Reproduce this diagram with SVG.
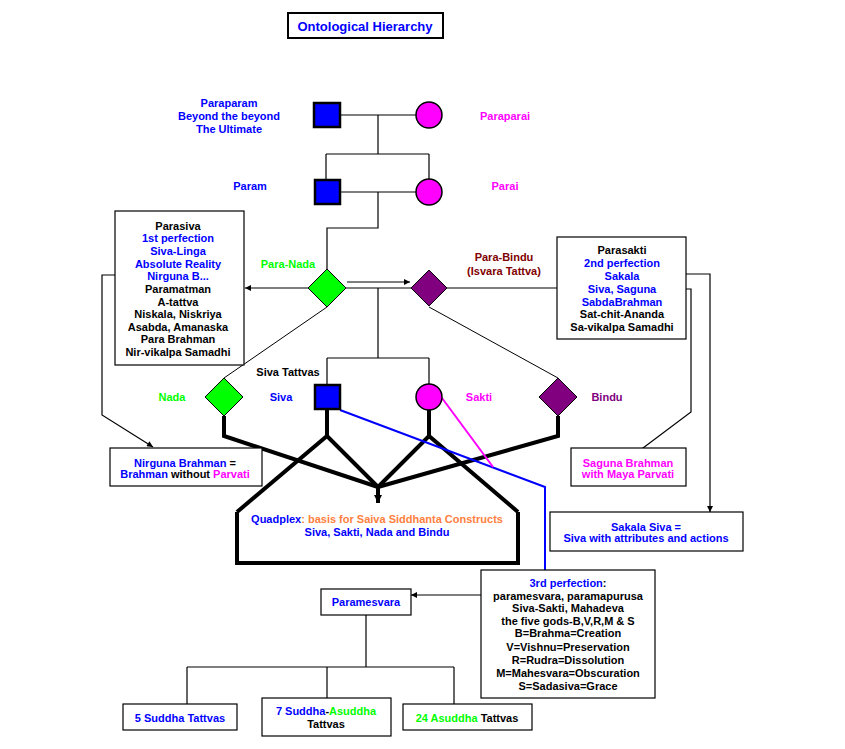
<svg xmlns="http://www.w3.org/2000/svg" width="845" height="749" viewBox="0 0 845 749">
<style>
text{font-family:"Liberation Sans",Arial,sans-serif;font-size:11px;font-weight:bold;text-anchor:middle}
.b{fill:#0000FF}.m{fill:#FF00FF}.g{fill:#00FF00}.k{fill:#000}.p{fill:#800080}.r{fill:#800000}.o{fill:#FF8040}
.box{fill:#fff;stroke:#000;stroke-width:1.2}
.ln{fill:none;stroke:#000;stroke-width:1.2}
.thin{fill:none;stroke:#000;stroke-width:1}
.thick{fill:none;stroke:#000;stroke-width:4;stroke-linejoin:miter}
.sq{fill:#0000FF;stroke:#000;stroke-width:2.5}
.ci{fill:#FF00FF;stroke:#000;stroke-width:1.5}
</style>
<defs>
<marker id="ah" viewBox="0 0 10 10" refX="10" refY="5" markerWidth="8" markerHeight="6" markerUnits="userSpaceOnUse" orient="auto"><path d="M0,0 L10,5 L0,10 z" fill="#000"/></marker>
<marker id="ahb" viewBox="0 0 10 10" refX="10" refY="5" markerWidth="10" markerHeight="8" markerUnits="userSpaceOnUse" orient="auto"><path d="M0,0 L10,5 L0,10 z" fill="#000"/></marker>
</defs>
<rect width="845" height="749" fill="#fff"/>

<g id="connectors">
  <!-- top tree -->
  <path class="ln" d="M341,115 H416 M378,115 V154 M326,154 H429 M326,154 V179 M429,154 V179"/>
  <path class="ln" d="M340,192 H416 M378,192 V228 H327 V269"/>
  <!-- diamonds -->
  <path class="ln" d="M346,288 H411"/>
  <path class="ln" d="M347,282 H410" marker-end="url(#ah)"/>
  <path class="ln" d="M308,288 H245" marker-end="url(#ah)"/>
  <path class="ln" d="M447,288 H568" marker-end="url(#ah)"/>
  <path class="ln" d="M378,288 V358 M327,358 H429 M327,358 V385 M429,358 V384"/>
  <path class="thin" d="M327,307 L224,378"/>
  <path class="thin" d="M429,307 L558,378"/>
  <!-- side connectors -->
  <path class="ln" d="M140,275 H102 V415 L153,447" marker-end="url(#ah)"/>
  <path class="ln" d="M640,274 H710 V512" marker-end="url(#ah)"/>
  <path class="ln" d="M660,289 H691 V412 L635,454" marker-end="url(#ah)"/>
  <!-- quadplex legs -->
  <path class="thick" d="M224,416 V436 L378,487"/>
  <path class="thick" d="M558,416 V436 L378,487"/>
  <path class="thick" d="M327,410 V436 M237,512 L327,436 L378,487"/>
  <path class="thick" d="M429,410 V436 M518,512 L429,436 L378,487"/>
  <path class="thick" d="M378,487 V503" marker-end="url(#ahb)"/>
  <path class="thick" d="M237,512 V563 H518 V512"/>
  <!-- colored lines -->
  <path d="M340,410 L545,487 V571" fill="none" stroke="#0000FF" stroke-width="2"/>
  <path d="M442,398 L493,467" fill="none" stroke="#FF00FF" stroke-width="2"/>
  <!-- bottom tree -->
  <path class="ln" d="M481,595 H411" marker-end="url(#ah)"/>
  <path class="ln" d="M366,615 V667 M187,667 H454 M187,667 V704 M327,667 V698 M454,667 V704"/>
</g>

<g id="title">
  <rect x="288" y="13" width="155" height="25" fill="#fff" stroke="#000" stroke-width="2"/>
  <text x="365" y="31" class="b" style="font-size:13px">Ontological Hierarchy</text>
</g>

<g id="paraparam">
  <rect class="sq" x="314" y="103" width="26" height="24"/>
  <text class="b" x="229" y="107">Paraparam</text>
  <text class="b" x="229" y="120">Beyond the beyond</text>
  <text class="b" x="229" y="133">The Ultimate</text>
</g>
<g id="paraparai">
  <circle class="ci" cx="429" cy="115" r="13"/>
  <text class="m" x="505" y="120">Paraparai</text>
</g>
<g id="param">
  <rect class="sq" x="315" y="180" width="25" height="24"/>
  <text class="b" x="250" y="190">Param</text>
</g>
<g id="parai">
  <circle class="ci" cx="429" cy="192" r="13"/>
  <text class="m" x="505" y="190">Parai</text>
</g>

<g id="para-nada">
  <polygon points="327,269 346,288 327,307 308,288" fill="#00FF00" stroke="#000" stroke-width="1"/>
  <text class="g" x="288" y="268">Para-Nada</text>
</g>
<g id="para-bindu">
  <polygon points="429,270 447,288 429,306 411,288" fill="#800080" stroke="#000" stroke-width="1"/>
  <text class="r" x="504" y="261">Para-Bindu</text>
  <text class="r" x="504" y="275">(Isvara Tattva)</text>
</g>

<g id="parasiva">
  <rect class="box" x="115" y="211" width="129" height="154"/>
  <text class="k" x="178" y="230">Parasiva</text>
  <text class="b" x="178" y="242">1st perfection</text>
  <text class="b" x="178" y="255">Siva-Linga</text>
  <text class="b" x="178" y="268">Absolute Reality</text>
  <text class="b" x="178" y="280">Nirguna B...</text>
  <text class="k" x="178" y="293">Paramatman</text>
  <text class="k" x="178" y="306">A-tattva</text>
  <text class="k" x="178" y="318">Niskala, Niskriya</text>
  <text class="k" x="178" y="331">Asabda, Amanaska</text>
  <text class="k" x="178" y="343">Para Brahman</text>
  <text class="k" x="178" y="356">Nir-vikalpa Samadhi</text>
</g>

<g id="parasakti">
  <rect class="box" x="557" y="237" width="129" height="102"/>
  <text class="k" x="622" y="254">Parasakti</text>
  <text class="b" x="622" y="267">2nd perfection</text>
  <text class="b" x="622" y="280">Sakala</text>
  <text class="b" x="622" y="293">Siva, Saguna</text>
  <text class="b" x="622" y="306">SabdaBrahman</text>
  <text class="k" x="622" y="318">Sat-chit-Ananda</text>
  <text class="k" x="622" y="331">Sa-vikalpa Samadhi</text>
</g>

<g id="siva-tattvas">
  <text class="k" x="288" y="376">Siva Tattvas</text>
</g>
<g id="nada">
  <polygon points="224,378 243,397 224,416 205,397" fill="#00FF00" stroke="#000" stroke-width="1"/>
  <text class="g" x="172" y="401">Nada</text>
</g>
<g id="siva">
  <rect class="sq" x="315" y="385" width="25" height="24"/>
  <text class="b" x="281" y="401">Siva</text>
</g>
<g id="sakti">
  <circle class="ci" cx="429" cy="397" r="13"/>
  <text class="m" x="479" y="401">Sakti</text>
</g>
<g id="bindu">
  <polygon points="558,378 577,397 558,416 539,397" fill="#800080" stroke="#000" stroke-width="1"/>
  <text class="p" x="607" y="401">Bindu</text>
</g>

<g id="nirguna">
  <rect class="box" x="110" y="448" width="152" height="38"/>
  <text x="185" y="467"><tspan class="b">Nirguna Brahman</tspan><tspan class="k"> =</tspan></text>
  <text x="185" y="478"><tspan class="b">Brahman</tspan><tspan class="k"> without </tspan><tspan class="m">Parvati</tspan></text>
</g>

<g id="saguna">
  <rect class="box" x="571" y="448" width="115" height="38"/>
  <text class="m" x="628" y="467">Saguna Brahman</text>
  <text class="m" x="628" y="478">with Maya Parvati</text>
</g>

<g id="sakala-siva">
  <rect class="box" x="550" y="512" width="193" height="39"/>
  <text class="b" x="646" y="531">Sakala Siva =</text>
  <text class="b" x="646" y="542">Siva with attributes and actions</text>
</g>

<g id="quadplex">
  <text x="377" y="523"><tspan class="b">Quadplex</tspan><tspan class="o">: basis for Saiva Siddhanta Constructs</tspan></text>
  <text class="b" x="377" y="536">Siva, Sakti, Nada and Bindu</text>
</g>

<g id="third-perfection">
  <rect class="box" x="481" y="570" width="174" height="128"/>
  <text x="568" y="587"><tspan class="b">3rd perfection</tspan><tspan class="k">:</tspan></text>
  <text class="k" x="568" y="600">paramesvara, paramapurusa</text>
  <text class="k" x="568" y="612">Siva-Sakti, Mahadeva</text>
  <text class="k" x="568" y="625">the five gods-B,V,R,M &amp; S</text>
  <text class="k" x="568" y="637">B=Brahma=Creation</text>
  <text class="k" x="568" y="651">V=Vishnu=Preservation</text>
  <text class="k" x="568" y="664">R=Rudra=Dissolution</text>
  <text class="k" x="568" y="677">M=Mahesvara=Obscuration</text>
  <text class="k" x="568" y="690">S=Sadasiva=Grace</text>
</g>

<g id="paramesvara">
  <rect class="box" x="321" y="589" width="90" height="26"/>
  <text class="b" x="366" y="606">Paramesvara</text>
</g>

<g id="suddha5">
  <rect class="box" x="123" y="704" width="114" height="26"/>
  <text class="b" x="180" y="722">5 Suddha Tattvas</text>
</g>
<g id="suddha7">
  <rect class="box" x="262" y="698" width="129" height="38"/>
  <text x="326" y="715"><tspan class="b">7 Suddha</tspan><tspan class="k">-</tspan><tspan class="g">Asuddha</tspan></text>
  <text class="k" x="326" y="728">Tattvas</text>
</g>
<g id="asuddha24">
  <rect class="box" x="403" y="704" width="129" height="26"/>
  <text x="467" y="722"><tspan class="g">24 Asuddha</tspan><tspan class="k"> Tattvas</tspan></text>
</g>
</svg>
